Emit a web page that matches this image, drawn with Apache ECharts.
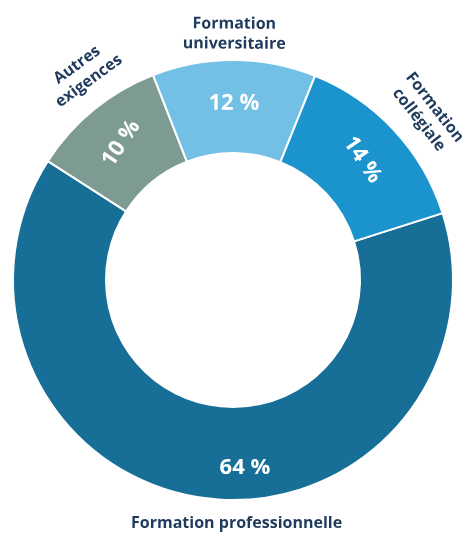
<!DOCTYPE html>
<html>
<head>
<meta charset="utf-8">
<script src="https://cdn.jsdelivr.net/npm/echarts@6/dist/echarts.min.js"></script>
<style>
  html, body { margin: 0; padding: 0; background: #fff; }
  #chart { width: 466px; height: 545px; }
</style>
</head>
<body>
<div id="chart"></div>
<script>
// données du graphique (sens horaire)
var categories = ["Formation professionnelle", "Autres exigences", "Formation universitaire", "Formation collégiale"];
var values = [64, 10, 12, 14];
var outerLabels = ["Formation professionnelle", "Autres\nexigences", "Formation\nuniversitaire", "Formation\ncollégiale"];
var colors = ["#176f97", "#7d9b92", "#72c0e6", "#1b93cd"];

// réglages de libellés par tranche (rotation, décalage)
var innerLabelStyle = [
  { rotate: 0, padding: [0, 0, 0, 70], formatter: " \n{c} %" },
  { rotate: 56 },
  {},
  { rotate: -56 }
];
var outerLabelStyle = [
  { rotate: 0, padding: [0, 0, 0, 74] },
  { rotate: 36, padding: [0, 0, 0, 30] },
  {},
  { rotate: -52, padding: [0, 0, 0, 20] }
];
// lignes vides pour rapprocher certains libellés de l'anneau
var outerPrefix = ["", "", " \n", ""];
var outerSuffix = ["\n ", "", "", ""];

var chart = echarts.init(document.getElementById("chart"));

var innerData = categories.map(function (name, i) {
  return { name: name, value: values[i], itemStyle: { color: colors[i] }, label: innerLabelStyle[i] };
});
var outerData = categories.map(function (name, i) {
  return { name: name, value: values[i], label: outerLabelStyle[i] };
});

var option = {
  animation: false,
  series: [
    {
      type: "pie",
      center: [233, 280],
      radius: [127, 220],
      startAngle: 17.7,
      clockwise: true,
      itemStyle: { borderColor: "#fff", borderWidth: 2 },
      label: {
        show: true,
        position: "inside",
        rotate: "tangential",
        formatter: "{c} %",
        color: "#fff",
        fontFamily: "Open Sans",
        fontWeight: "bold",
        fontSize: 22,
        lineHeight: 26
      },
      labelLine: { show: false },
      emphasis: { disabled: true },
      data: innerData
    },
    {
      // anneau invisible pour porter les libellés extérieurs
      type: "pie",
      center: [233, 280],
      radius: [226, 280],
      startAngle: 17.7,
      clockwise: true,
      silent: true,
      itemStyle: { color: "rgba(0,0,0,0)" },
      label: {
        show: true,
        position: "inside",
        rotate: "tangential",
        formatter: function (p) {
          var i = p.dataIndex;
          return outerPrefix[i] + outerLabels[i] + outerSuffix[i];
        },
        color: "#1e3a5c",
        fontFamily: "Open Sans",
        fontWeight: "bold",
        fontSize: 16,
        lineHeight: 20
      },
      labelLine: { show: false },
      emphasis: { disabled: true },
      data: outerData
    }
  ]
};

chart.setOption(option);
</script>
</body>
</html>
